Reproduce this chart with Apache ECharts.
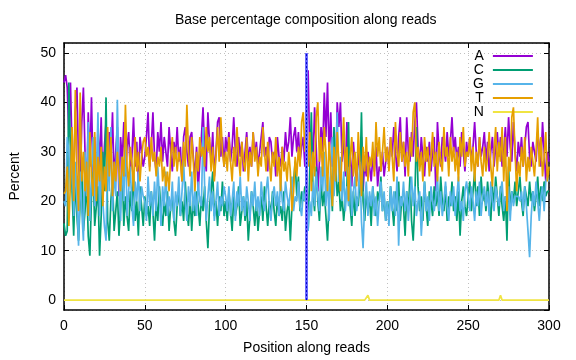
<!DOCTYPE html>
<html>
<head>
<meta charset="utf-8">
<script src="https://cdn.jsdelivr.net/npm/echarts@6/dist/echarts.min.js"></script>
<style>html,body{margin:0;padding:0;background:#fff}#c{width:576px;height:360px}</style>
</head>
<body>
<div id="c"></div>
<script>
var title = "Base percentage composition along reads";
var xLabel = "Position along reads";
var yLabel = "Percent";
var seriesNames = ["A", "C", "G", "T", "N"];
var seriesColors = ["#9400d3", "#009e73", "#56b4e9", "#e69f00", "#f0e442"];
var markerPos = 150;

var valuesA = [
44,45.5,43,33,44,30,24,38,43,28,
22,36,43,30,20,38,27,41,25,33,
19,35,27,37,22,31,36,24,34,28,
38,24,30,35,21,33,28,36,25,31,
34,26,29,37,27,32,24,33,30,27,
29,33,38,27,31,38,29,26,34,30,
36,28,33,30,27,35,30,26,32,29,
35,28,31,24,33,35,30,27,33,34,
29,25,31,22,28,33,39,30,26,38,
32,28,34,25,30,36,37,29,33,27,
33,30,34,28,31,37,30,27,33,29,
32,26,30,34,28,31,27,34,29,32,
27,30,33,36,29,31,26,33,32,28,
30,25,33,29,27,31,28,34,30,32,
37,29,33,35,30,34,28,31,33,27,
40,46.5,30,34,27,39,31,22,28,35,
30,42,33,44,29,38,27,31,24,40,
35,40,28,33,25,36,27,30,23,32,
27,24,30,26,33,22,28,25,30,27,
24,29,26,31,23,27,26,30,25,28,
31,27,33,29,35,30,26,33,37,28,
32,25,37,30,28,34,29,36,40,31,
27,33,29,25,31,28,32,26,30,33,
22,36,30,27,33,31,28,34,29,32,
37,30,33,28,31,27,34,30,26,32,
29,33,28,31,36,30,27,33,29,31,
34,28,32,26,30,33,27,31,34,29,
33,27,30,35,29,37,31,28,36,30,
26,32,29,33,27,31,35,36,29,27,
32,30,28,34,31,27,36,30,24,30,
28];

var valuesC = [
15.5,13,14,44,30,22,13,25,17,12,
20,28,14,18,24,13,9,21,26,15,
19,23,9,17,30,22,41,16,12,20,
25,14,18,22,13,19,27,15,21,17,
14,22,18,26,16,20,13,23,19,15,
21,17,19,15,22,18,12,20,16,23,
18,15,20,17,22,14,19,21,16,13,
19,22,17,20,16,24,18,15,21,14,
20,17,22,19,15,21,18,23,16,10.5,
19,22,26,17,20,15,21,18,24,17,
20,16,22,18,14,21,17,19,23,15,
18,21,16,20,12,17,22,19,15,20,
14,18,21,16,23,19,15,20,17,22,
18,15,21,17,19,16,22,14,18,20,
12,19,24,28,21,25,18,22,20,23,
21,14,26,38,22,18,27,20,16,24,
19,22,17,12,20,25,18,35,28,21,
24,18,21,16,20,23,36,19,15,22,
17,21,19,24,38,20,16,22,18,21,
15,23,19,17,22,20,25,18,21,16,
20,17,23,19,15,22,18,24,16,21,
19,13,22,18,25,16,12,20,35,23,
18,21,16,24,19,15,22,20,17,23,
19,22,17,25,20,18,23,16,21,19,
24,18,21,16,22,13,20,23,19,17,
21,24,18,22,26,19,23,17,25,20,
22,18,24,20,16,23,19,25,21,17,
23,19,16,21,12,27,18,22,20,24,
19,22,25,20,17,23,21,19,24,20,
22,18,21,25,19,23,20,24,21,22,
22];

var valuesG = [
20,19,33,30,22,34,17,28,20,11,
26,18,12,30,21,36,16,25,33,19,
23,38,17,27,20,15,12,31,22,35,
18,26,21,40.5,24,16,29,20,34,17,
22,27,19,15,24,20,26,18,23,21,
20,16,25,19,22,17,24,18,27,21,
15,23,19,26,17,21,18,24,16,22,
19,25,17,22,28,20,16,23,19,26,
18,22,17,24,20,19,35,23,16,21,
25,18,22,16,20,24,17,21,19,23,
21,18,23,17,20,24,16,22,19,25,
18,21,17,23,20,16,22,19,24,18,
21,17,24,20,18,22,25,19,16,21,
23,19,22,17,25,20,18,24,21,19,
22,25,18,21,20,24,19,17,22,20,
23,14,20,17,24,19,26,21,18,27,
22,30,19,25,16,28,33,21,26,38,
24,29,20,26,18,23,19,27,17,22,
25,18,21,28,16,10.5,20,24,17,22,
19,23,17,21,15,20,24,18,22,16,
20,15,23,18,22,17,25,11,21,19,
24,18,22,16,21,25,19,23,17,20,
22,13,19,24,18,21,16,23,20,18,
21,25,18,22,17,20,24,19,16,22,
19,23,17,21,25,18,20,16,22,24,
21,18,23,20,16,22,19,24,17,21,
23,19,22,17,24,20,18,23,21,19,
22,24,18,21,20,23,16,22,19,21,
21,21,20,22,18,23,19,14,8.7,17,
22,19,24,20,16,21,23,18,24,25,
24];

var valuesT = [
21.5,22,27,15,24,35,20,42.5,26,18,
42,24,30,22,28,17,34,25,21,34,
20,29,24,31,19,27,22,35,25,33,
21,28,24,30,26,22,29,25,39.5,27,
23,31,28,22,33,26,30,24,29,32,
33,29,31,26,33,28,30,25,29,27,
31,24,27,23,26,22,29,33,27,31,
26,30,28,24,32,27,39.5,30,25,33,
28,22,30,26,33,29,31,27,35,30,
33,26,31,24,29,35,28,37,30,27,
30,26,33,28,24,31,27,35,29,25,
32,28,26,33,24,30,27,34,28,31,
25,29,27,35,30,26,32,28,24,30,
27,33,25,29,22,31,26,28,24,30,
26,18,22,29,25,31,27,36,38,30,
36,27,34,22,30,25,37,40,28,33,
25,35,30,22,32,27,19,31,24,34,
28,22,30,37,26,31,20,29,33,25,
30,23,34,28,21,31,26,33,24,29,
27,32,25,36,29,33,26,30,35,28,
31,26,33,29,24,36,30,27,34,28,
32,27,30,25,33,29,38,40,28,31,
26,30,24,33,28,31,25,29,34,27,
30,24,32,28,26,35,29,31,25,33,
28,31,26,30,24,33,29,35,27,30,
29,33,26,31,24,30,27,33,28,25,
31,26,29,34,27,23,30,35,26,32,
28,35,24,33,18,29,26,37,39,30,
22,28,25,31,27,33,24,29,26,31,
28,25,30,37,27,33,25,29,34,24,
27];

// N is zero everywhere except two small bumps
var nBumpPositions = [188, 270];
var nBumpValues = [1, 1];

var positions = [];
for (var i = 0; i <= 300; i++) positions.push(i);
var valuesN = positions.map(function (p) {
  var k = nBumpPositions.indexOf(p);
  return k >= 0 ? nBumpValues[k] : 0;
});

var allValues = [valuesA, valuesC, valuesG, valuesT, valuesN];

function pairs(vals) {
  return vals.map(function (v, i) { return [positions[i], v]; });
}

var FONT = "Liberation Sans, Arial, sans-serif";
var FS = 14;

var series = seriesNames.map(function (name, k) {
  return {
    name: name,
    type: 'line',
    data: pairs(allValues[k]),
    symbol: 'none',
    showSymbol: false,
    lineStyle: { color: seriesColors[k], width: 1.7 },
    itemStyle: { color: seriesColors[k] },
    z: 2 + k,
    silent: true
  };
});
series.push({
  name: 'marker-band',
  type: 'line',
  data: [[markerPos, 0], [markerPos, 50]],
  symbol: 'none',
  lineStyle: { color: '#6a6aff', width: 3 },
  z: 10,
  silent: true
});
series.push({
  name: 'marker-line',
  type: 'line',
  data: [[markerPos, 0], [markerPos, 50]],
  symbol: 'none',
  lineStyle: { color: '#0000c8', width: 1, type: [2, 2] },
  z: 11,
  silent: true
});

var axisLabelStyle = { color: '#000', fontFamily: FONT, fontSize: FS };
var gridLine = { show: true, lineStyle: { color: '#c0c0c0', type: [1, 3], width: 1 } };
var frameLine = { show: true, onZero: false, lineStyle: { color: '#000', width: 1.5 } };
var inTick = { show: true, inside: true, length: 5, lineStyle: { color: '#000' } };

var chart = echarts.init(document.getElementById('c'), null, { renderer: 'canvas' });
chart.setOption({
  animation: false,
  backgroundColor: '#fff',
  graphic: [{
    type: 'text',
    left: 305 - 130, top: 13,
    style: { text: title, fontFamily: FONT, fontSize: FS, fill: '#000' }
  }],
  legend: {
    data: seriesNames,
    orient: 'vertical',
    left: 468,
    top: 44,
    align: 'right',
    icon: 'rect',
    itemWidth: 40,
    itemHeight: 2,
    itemGap: 0,
    textStyle: { fontFamily: FONT, fontSize: FS, color: '#000', lineHeight: 14, padding: [0, 4, 0, 0] },
    selectedMode: false
  },
  grid: { left: 61, right: 27, top: 43, bottom: 45, containLabel: false },
  xAxis: [{
    type: 'value', min: 0, max: 300, interval: 50,
    name: xLabel, nameLocation: 'middle', nameGap: 31,
    nameTextStyle: { fontFamily: FONT, fontSize: FS, color: '#000' },
    axisLine: frameLine,
    axisTick: inTick,
    axisLabel: Object.assign({ margin: 9 }, axisLabelStyle),
    splitLine: gridLine
  }, {
    type: 'value', min: 0, max: 300, interval: 50, position: 'top',
    axisLine: frameLine,
    axisTick: inTick,
    axisLabel: { show: false },
    splitLine: { show: false }
  }],
  yAxis: [{
    type: 'value', min: -2, max: 52, splitNumber: 5,
    name: yLabel, nameLocation: 'middle', nameGap: 42,
    nameTextStyle: { fontFamily: FONT, fontSize: FS, color: '#000' },
    axisLine: frameLine,
    axisTick: inTick,
    axisLabel: Object.assign({ showMinLabel: false, showMaxLabel: false, margin: 8 }, axisLabelStyle),
    splitLine: gridLine
  }, {
    type: 'value', min: -2, max: 52, splitNumber: 5, position: 'right',
    axisLine: frameLine,
    axisTick: inTick,
    axisLabel: { show: false },
    splitLine: { show: false }
  }],
  series: series
});
</script>
</body>
</html>
